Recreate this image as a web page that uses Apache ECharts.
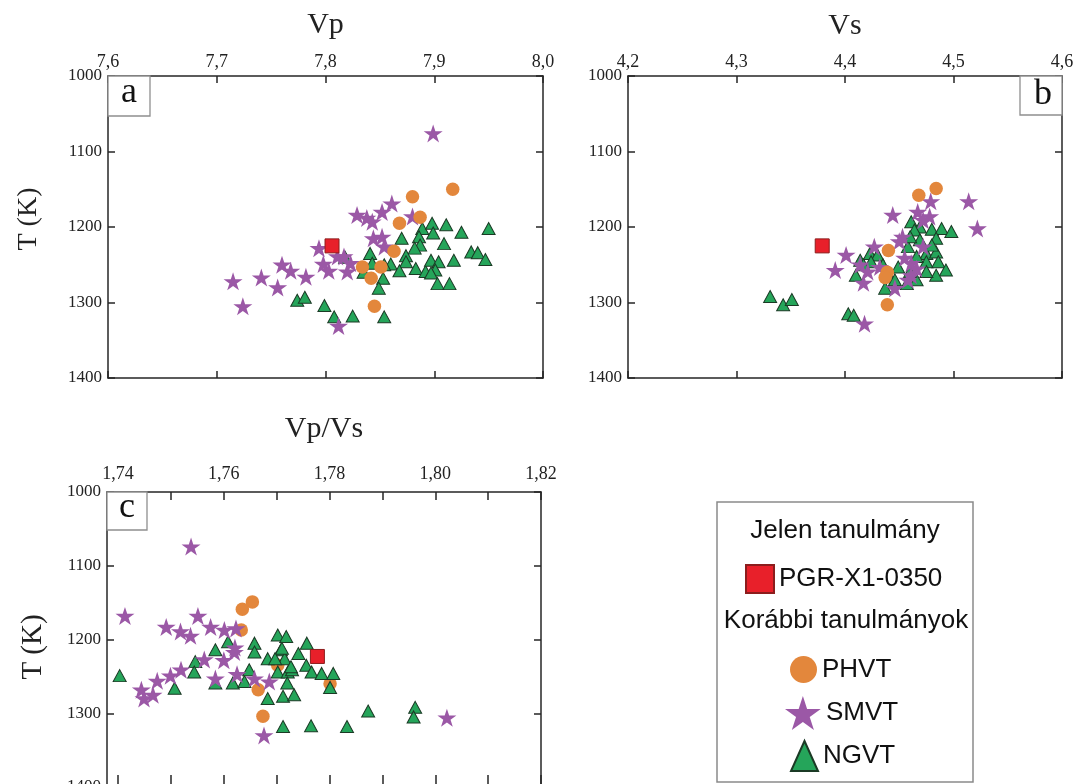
<!DOCTYPE html>
<html>
<head>
<meta charset="utf-8">
<script src="https://cdn.jsdelivr.net/npm/echarts@6.0.0/dist/echarts.min.js"></script>
<style>
html,body{margin:0;padding:0;background:#fff;}
#chart{width:1077px;height:784px;}
</style>
</head>
<body>
<div id="chart"></div>
<script>
// ---------- DATA ----------
// Panel a : Vp vs T(K)
const vpPGR  = [[7.806, 1225]];
const vpPHVT = [[7.917,1150],[7.880,1160],[7.887,1187],[7.868,1195],[7.863,1232],[7.834,1253],[7.851,1253],[7.842,1268],[7.845,1305]];
const vpSMVT = [[7.715,1272],[7.724,1305],[7.741,1267],[7.756,1280],[7.760,1250],[7.768,1258],[7.782,1266],[7.794,1228],[7.798,1249],[7.803,1258],[7.811,1239],[7.820,1259],[7.812,1331],[7.899,1076],[7.861,1169],[7.852,1180],[7.829,1184],[7.838,1188],[7.843,1193],[7.880,1186],[7.844,1215],[7.852,1213],[7.854,1226],[7.823,1248],[7.817,1239]];
const vpNGVT = [[7.774,1297],[7.781,1293],[7.799,1304],[7.808,1319],[7.825,1318],[7.818,1240],[7.870,1215],[7.889,1202],[7.898,1195],[7.911,1197],[7.925,1207],[7.950,1202],[7.886,1213],[7.899,1208],[7.887,1224],[7.909,1222],[7.882,1228],[7.934,1233],[7.940,1234],[7.947,1243],[7.841,1235],[7.874,1238],[7.874,1246],[7.860,1249],[7.868,1258],[7.883,1255],[7.892,1259],[7.897,1244],[7.904,1246],[7.918,1244],[7.901,1257],[7.897,1261],[7.903,1275],[7.914,1275],[7.853,1268],[7.849,1281],[7.854,1250],[7.854,1319],[7.843,1248],[7.835,1260]];

// Panel b : Vs vs T(K)
const vsPGR  = [[4.379, 1225]];
const vsPHVT = [[4.484,1149],[4.468,1158],[4.440,1231],[4.439,1260],[4.437,1267],[4.439,1303]];
const vsSMVT = [[4.514,1166],[4.522,1202],[4.479,1166],[4.444,1184],[4.467,1180],[4.472,1191],[4.478,1186],[4.453,1213],[4.450,1219],[4.427,1226],[4.472,1226],[4.401,1237],[4.414,1250],[4.391,1257],[4.432,1253],[4.455,1241],[4.461,1248],[4.466,1255],[4.461,1264],[4.458,1270],[4.421,1259],[4.417,1274],[4.446,1281],[4.418,1328]];
const vsNGVT = [[4.331,1292],[4.343,1303],[4.351,1296],[4.403,1315],[4.408,1317],[4.461,1193],[4.469,1200],[4.480,1203],[4.489,1202],[4.498,1206],[4.464,1204],[4.484,1215],[4.458,1226],[4.414,1244],[4.423,1235],[4.430,1237],[4.410,1264],[4.424,1246],[4.475,1235],[4.484,1233],[4.486,1246],[4.475,1246],[4.449,1253],[4.493,1257],[4.484,1264],[4.475,1259],[4.466,1270],[4.457,1275],[4.437,1281],[4.441,1266],[4.446,1270],[4.460,1259],[4.469,1217],[4.480,1224],[4.460,1213],[4.417,1250],[4.435,1250],[4.466,1239]];

// Panel c : Vp/Vs vs T(K)
const rPGR  = [[1.7777, 1223]];
const rPHVT = [[1.7654,1149],[1.7635,1159],[1.7633,1187],[1.7665,1268],[1.7674,1304],[1.7702,1235],[1.7801,1260]];
const rSMVT = [[1.7413,1168],[1.7491,1183],[1.7518,1189],[1.7537,1195],[1.7551,1168],[1.7575,1183],[1.7601,1187],[1.7623,1185],[1.7620,1217],[1.7621,1211],[1.7600,1228],[1.7563,1227],[1.7519,1241],[1.7499,1249],[1.7474,1256],[1.7444,1268],[1.7449,1280],[1.7466,1275],[1.7584,1253],[1.7625,1247],[1.7658,1253],[1.7686,1257],[1.7676,1330],[1.7538,1074],[1.8022,1306]];
const rNGVT = [[1.7403,1249],[1.7507,1266],[1.7546,1230],[1.7544,1244],[1.7584,1214],[1.7608,1203],[1.7584,1259],[1.7617,1259],[1.7639,1257],[1.7648,1241],[1.7658,1205],[1.7658,1217],[1.7683,1226],[1.7683,1280],[1.7702,1194],[1.7718,1196],[1.7708,1214],[1.7715,1226],[1.7702,1244],[1.7721,1244],[1.7712,1277],[1.7712,1318],[1.7757,1205],[1.7741,1219],[1.7756,1235],[1.7766,1244],[1.7785,1246],[1.7807,1246],[1.7801,1265],[1.7729,1241],[1.7720,1259],[1.7733,1275],[1.7873,1297],[1.7962,1292],[1.7959,1305],[1.7765,1317],[1.7833,1318],[1.7710,1212],[1.7697,1226],[1.7727,1237]];

// Tick values
const vpTicks = [7.6, 7.7, 7.8, 7.9, 8.0];
const vsTicks = [4.2, 4.3, 4.4, 4.5, 4.6];
const rLabels = [1.74, 1.76, 1.78, 1.80, 1.82];
const rTicks  = [1.74, 1.75, 1.76, 1.77, 1.78, 1.79, 1.80, 1.81, 1.82];
const tTicks  = [1000, 1100, 1200, 1300, 1400];

// ---------- STYLE ----------
const serif = '"Liberation Serif", "Times New Roman", serif';
const sans = '"Liberation Sans", Arial, sans-serif';
const axisColor = '#262626';
const starPath = 'path://M50 0 L61.2 34.5 L97.6 34.5 L68.2 55.9 L79.4 90.5 L50 69.1 L20.6 90.5 L31.8 55.9 L2.4 34.5 L38.8 34.5 Z';
const COL = {pgr:'#e8202a', phvt:'#e3873c', smvt:'#9b58a6', ngvt:'#25a55a'};

function fmt(d){ return v => Number(v).toFixed(d).replace('.', ','); }

function xAxis(gridIndex, min, max, pos, show, ticks, labels, dec, name, nameGap, margin, tickLen){
  return {
    type:'value', gridIndex, position:pos, min, max, scale:true,
    splitLine:{show:false},
    axisLine:{show:true, onZero:false, lineStyle:{color:axisColor, width:1.5}},
    axisTick:{show:true, inside:true, length:tickLen, customValues:ticks, lineStyle:{color:axisColor, width:1.5}},
    axisLabel:{show:show, customValues:labels, formatter:fmt(dec), fontFamily:serif, fontSize:18, color:'#222', margin:margin},
    name: name || '', nameLocation:'middle', nameGap: nameGap || 0,
    nameTextStyle:{fontFamily:serif, fontSize:30, color:'#222'}
  };
}
function yAxis(gridIndex, pos, show){
  return {
    type:'value', gridIndex, position:pos, min:1000, max:1400, inverse:true,
    splitLine:{show:false},
    axisLine:{show:true, onZero:false, lineStyle:{color:axisColor, width:1.5}},
    axisTick:{show:true, inside:true, length:7, customValues:tTicks, lineStyle:{color:axisColor, width:1.5}},
    axisLabel:{show:show, customValues:tTicks, formatter: v => String(Math.round(v)), fontFamily:serif, fontSize:17, color:'#222', margin:6}
  };
}

function sc(name, data, xi, symbol, size, color, border, bw){
  return {
    type:'scatter', name, data, xAxisIndex:xi, yAxisIndex:xi,
    symbol, symbolSize:size,
    itemStyle:{color, borderColor:border || color, borderWidth: bw || 0, opacity:1},
    emphasis:{disabled:true}
  };
}

function panelSeries(xi, pgr, phvt, smvt, ngvt, order){
  const s = {
    pgr: sc('PGR-X1-0350', pgr, xi, 'rect', 14, COL.pgr, '#8c1d1d', 1),
    phvt: sc('PHVT', phvt, xi, 'circle', 13.5, COL.phvt),
    smvt: sc('SMVT', smvt, xi, starPath, [19,18], COL.smvt),
    ngvt: sc('NGVT', ngvt, xi, 'triangle', [13,12], COL.ngvt, '#1b3a25', 1)
  };
  return order.map(k => s[k]);
}

const chart = echarts.init(document.getElementById('chart'), null, {renderer:'canvas'});

const legendText = {fontFamily:sans, fontSize:26, color:'#111'};
function leg(name, icon, left, top, w, h){
  return {data:[{name, icon}], left, top, orient:'vertical', itemWidth:w, itemHeight:h,
    padding:0, itemGap:0, selectedMode:false, textStyle:legendText};
}

const option = {
  backgroundColor:'#ffffff',
  animation:false,
  grid:[
    {left:108, top:76, width:435, height:302, outerBoundsMode:'none', containLabel:false},
    {left:628, top:76, width:434, height:302, outerBoundsMode:'none', containLabel:false},
    {left:107, top:492, width:434, height:295, outerBoundsMode:'none', containLabel:false}
  ],
  xAxis:[
    xAxis(0, 7.6, 8.0, 'top', true, vpTicks, vpTicks, 1, 'Vp', 36, 5, 7),
    xAxis(0, 7.6, 8.0, 'bottom', false, vpTicks, vpTicks, 1, '', 0, 5, 7),
    xAxis(1, 4.2, 4.6, 'top', true, vsTicks, vsTicks, 1, 'Vs', 35, 5, 7),
    xAxis(1, 4.2, 4.6, 'bottom', false, vsTicks, vsTicks, 1, '', 0, 5, 7),
    xAxis(2, 1.7379, 1.82, 'top', true, rTicks, rLabels, 2, 'Vp/Vs', 48, 9, 8),
    xAxis(2, 1.7379, 1.82, 'bottom', false, rTicks, rLabels, 2, '', 0, 9, 12)
  ],
  yAxis:[
    yAxis(0, 'left', true), yAxis(0, 'right', false),
    yAxis(1, 'left', true), yAxis(1, 'right', false),
    yAxis(2, 'left', true), yAxis(2, 'right', false)
  ],
  legend:[
    leg('PGR-X1-0350', 'rect', 745, 564, 28, 28),
    leg('PHVT', 'circle', 790, 656, 27, 27),
    leg('SMVT', starPath, 785, 696, 36, 34),
    leg('NGVT', 'triangle', 790, 740, 27, 30)
  ],
  series:[
    ...panelSeries(0, vpPGR, vpPHVT, vpSMVT, vpNGVT, ['ngvt','smvt','phvt','pgr']),
    ...panelSeries(2, vsPGR, vsPHVT, vsSMVT, vsNGVT, ['ngvt','smvt','phvt','pgr']),
    ...panelSeries(4, rPGR, rPHVT, rSMVT, rNGVT, ['phvt','ngvt','smvt','pgr'])
  ],
  graphic:[
    // panel tags
    {type:'rect', shape:{x:108, y:76, width:42, height:40}, style:{fill:'#fff', stroke:'#8f8f8f', lineWidth:1.3}, z:1},
    {type:'text', x:129, y:93, style:{text:'a', fontFamily:serif, fontSize:36, fill:'#111', align:'center', verticalAlign:'middle'}, z:2},
    {type:'rect', shape:{x:1020, y:76, width:42, height:39}, style:{fill:'#fff', stroke:'#8f8f8f', lineWidth:1.3}, z:1},
    {type:'text', x:1043, y:95, style:{text:'b', fontFamily:serif, fontSize:36, fill:'#111', align:'center', verticalAlign:'middle'}, z:2},
    {type:'rect', shape:{x:107, y:492, width:40, height:38}, style:{fill:'#fff', stroke:'#8f8f8f', lineWidth:1.3}, z:1},
    {type:'text', x:127, y:508, style:{text:'c', fontFamily:serif, fontSize:36, fill:'#111', align:'center', verticalAlign:'middle'}, z:2},
    // y-axis titles
    {type:'text', x:29, y:219, rotation:Math.PI/2, style:{text:'T (K)', fontFamily:serif, fontSize:28, fill:'#222', align:'center', verticalAlign:'middle'}},
    {type:'text', x:33, y:647, rotation:Math.PI/2, style:{text:'T (K)', fontFamily:serif, fontSize:29, fill:'#222', align:'center', verticalAlign:'middle'}},
    // legend frame & headings
    {type:'rect', shape:{x:717, y:502, width:256, height:280}, style:{fill:'none', stroke:'#8a8a8a', lineWidth:1.5}, z:0},
    {type:'text', x:845, y:531, style:{text:'Jelen tanulmány', fontFamily:sans, fontSize:26, fill:'#111', align:'center', verticalAlign:'middle'}},
    {type:'text', x:846, y:621, style:{text:'Korábbi tanulmányok', fontFamily:sans, fontSize:26, fill:'#111', align:'center', verticalAlign:'middle'}}
  ]
};
chart.setOption(option);
</script>
</body>
</html>
